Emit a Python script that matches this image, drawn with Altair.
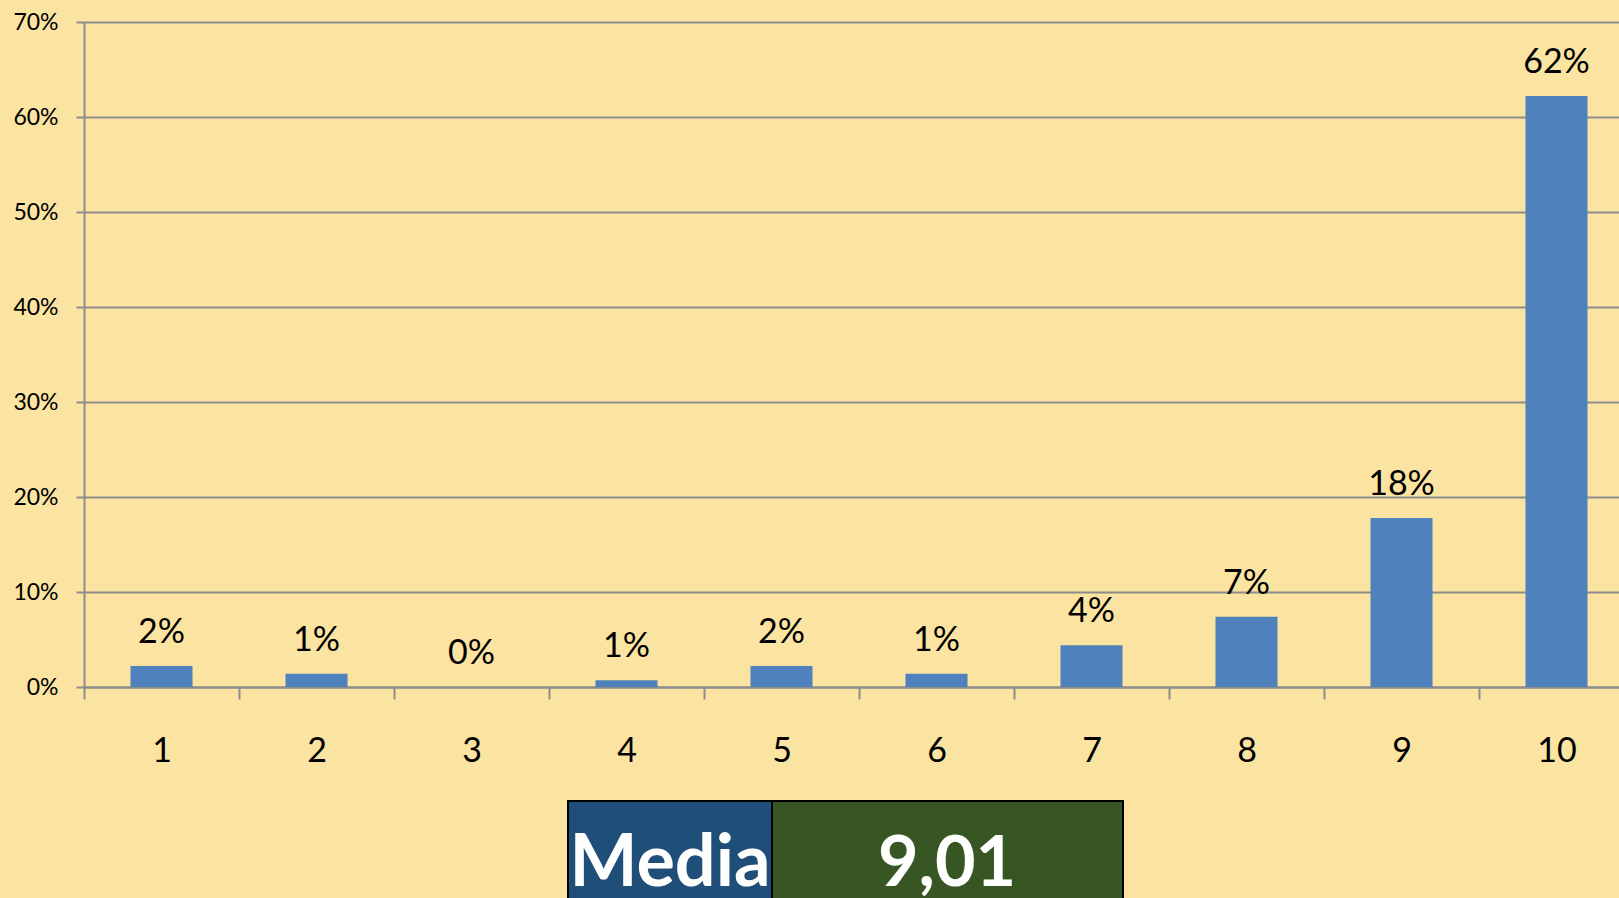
import altair as alt
import pandas as pd

# ---- data ----
categories = ["1", "2", "3", "4", "5", "6", "7", "8", "9", "10"]
shares = [0.022, 0.014, 0.0, 0.007, 0.022, 0.014, 0.044, 0.074, 0.178, 0.622]
y_ticks = [0.0, 0.1, 0.2, 0.3, 0.4, 0.5, 0.6, 0.7]
box_labels = ["Media", "9,01"]

BG = "#FBE3A1"
GRID = "#8C8C8C"
BAR = "#4F81BD"
BLUE = "#1F4E79"
GREEN = "#375623"
FONT = "Lato"

df = pd.DataFrame({"score": categories, "share": shares})

x_enc = alt.X(
    "score:N",
    sort=categories,
    scale=alt.Scale(paddingInner=0, paddingOuter=0, range=[0, 1550]),
    axis=alt.Axis(
        title=None, labelAngle=0, tickBand="extent", tickSize=12, tickWidth=2,
        tickColor=GRID, domainColor=GRID, domainWidth=2, grid=False,
        labelFont=FONT, labelFontSize=34, labelColor="black",
        labelPadding=52, labelBaseline="middle",
    ),
)
y_enc = alt.Y(
    "share:Q",
    scale=alt.Scale(domain=[0, 0.7], nice=False),
    axis=alt.Axis(
        title=None, format=".0%", values=y_ticks, tickSize=8, tickWidth=2,
        tickColor=GRID, domainColor=GRID, domainWidth=2,
        grid=True, gridColor=GRID, gridWidth=2,
        labelFont=FONT, labelFontSize=23, labelColor="black", labelPadding=18,
    ),
)

bars = alt.Chart(df).mark_bar(color=BAR, width={"band": 0.4}).encode(x=x_enc, y=y_enc)
labels = alt.Chart(df).mark_text(
    font=FONT, fontSize=34, baseline="alphabetic", dy=-23, color="black"
).encode(x=x_enc, y=y_enc, text=alt.Text("share:Q", format=".0%"))

box1_df = pd.DataFrame({"label": [box_labels[0]]})
box2_df = pd.DataFrame({"label": [box_labels[1]]})

rect1 = alt.Chart(box1_df).mark_rect(fill=BLUE, stroke="black", strokeWidth=2).encode(
    x=alt.value(484), x2=alt.value(688), y=alt.value(779), y2=alt.value(920)
)
rect2 = alt.Chart(box2_df).mark_rect(fill=GREEN, stroke="black", strokeWidth=2).encode(
    x=alt.value(688), x2=alt.value(1039), y=alt.value(779), y2=alt.value(920)
)
text1 = alt.Chart(box1_df).mark_text(
    font=FONT, fontSize=72, fontWeight="bold", color="white", baseline="alphabetic", align="center"
).encode(x=alt.value(586), y=alt.value(864), text="label:N")
text2 = alt.Chart(box2_df).mark_text(
    font=FONT, fontSize=70, fontWeight="bold", color="white", baseline="alphabetic", align="center"
).encode(x=alt.value(863), y=alt.value(864), text="label:N")

chart = alt.layer(bars, labels, rect1, rect2, text1, text2).properties(
    width=1535,
    height=665,
    autosize="none",
    padding={"left": 84, "top": 22, "right": 0, "bottom": 211},
    background=BG,
).configure_view(stroke=None)

chart.save("out.html", embed_options={"renderer": "svg", "actions": False})
